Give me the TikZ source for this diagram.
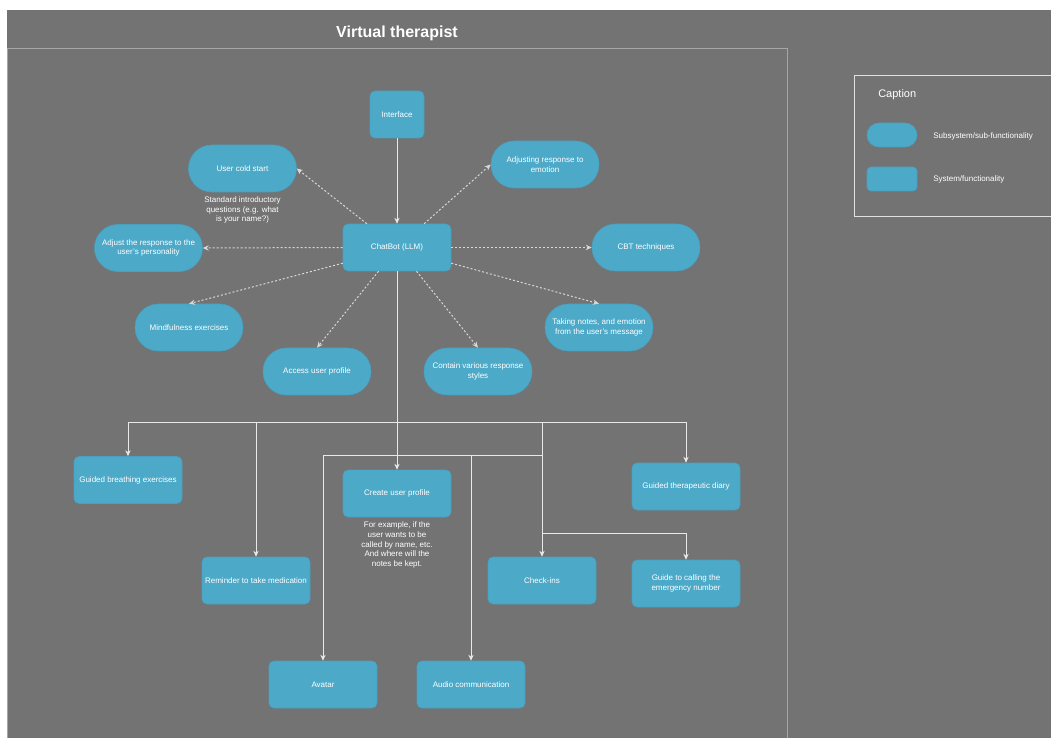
\documentclass[tikz,border=0pt]{standalone}
\usepackage{fontspec}
\setmainfont{Liberation Sans}
\usetikzlibrary{arrows.meta,calc}
\definecolor{bg}{HTML}{737373}
\definecolor{nodeblue}{HTML}{4DA9C8}
\definecolor{nodeedge}{HTML}{4A9EBE}
\definecolor{linecol}{HTML}{E8E8E8}
\definecolor{dashcol}{HTML}{D8D8D8}
\definecolor{framecol}{HTML}{A6A6A6}
\definecolor{capcol}{HTML}{E0E0E0}
\begin{document}
\begin{tikzpicture}[x=0.75pt,y=-0.75pt,
  txt/.style={font=\fontsize{6}{7.2}\selectfont, text=white, align=center},
  sys/.style={txt, draw=nodeedge, fill=nodeblue, rounded corners=3.75pt, minimum width=81pt, minimum height=35.25pt, inner sep=0pt},
  sub/.style={txt, draw=nodeedge, fill=nodeblue, rounded corners=17.5pt, minimum width=81pt, minimum height=35.25pt, inner sep=0pt},
  note/.style={txt, inner sep=0pt},
  dep/.style={draw=dashcol, line width=0.75pt, dash pattern=on 1.5pt off 1.5pt, -{Stealth[length=4.5pt,width=4pt]}},
  flow/.style={draw=linecol, line width=0.75pt, -{Stealth[length=4.5pt,width=4pt]}},
  branch/.style={draw=linecol, line width=0.75pt},
]
\useasboundingbox (0,0) rectangle (1051,738);
% background
\fill[bg] (7,10) rectangle (1051,738);
\draw[framecol, line width=0.75pt] (7,738) -- (7,49) -- (787,49) -- (787,738);
\node[font=\bfseries\fontsize{12}{14}\selectfont, text=white] (title) at (397,33.5) {Virtual therapist};

% caption
\draw[capcol, line width=0.75pt] (1051,76) -- (854,76) -- (854,217) -- (1051,217);
\node[font=\fontsize{8.25}{10}\selectfont, text=white, anchor=west, inner sep=0pt] (captitle) at (878,94.5) {Caption};
\node[sub, minimum width=37.5pt, minimum height=18pt, rounded corners=8.9pt] (legsub) at (892,135) {};
\node[sys, minimum width=37.5pt, minimum height=18pt, rounded corners=3pt] (legsys) at (892,179) {};
\node[txt, anchor=west, inner sep=0pt] (legsubt) at (933,136) {Subsystem/sub-functionality};
\node[txt, anchor=west, inner sep=0pt] (legsyst) at (933,179) {System/functionality};

% central nodes
\node[sys, minimum width=40.5pt] (iface) at (397,114.5) {Interface};
\node[sys] (chat) at (397,247.5) {ChatBot (LLM)};

% subsystems
\node[sub] (cold) at (242.5,168.5) {User cold start};
\node[note] (coldnote) at (242.5,210) {Standard introductory\\questions (e.g. what\\is your name?)};
\node[sub] (adjemo) at (545,164.5) {Adjusting response to\\emotion};
\node[sub] (persona) at (148.5,248) {Adjust the response to the\\user's personality};
\node[sub] (cbt) at (646,247.5) {CBT techniques};
\node[sub] (mind) at (189,327.5) {Mindfulness exercises};
\node[sub] (notes) at (599,327.5) {Taking notes, and emotion\\from the user's message};
\node[sub] (access) at (317,371.5) {Access user profile};
\node[sub] (contain) at (478,371.5) {Contain various response\\styles};

% functionality boxes
\node[sys] (breath) at (128,480) {Guided breathing exercises};
\node[sys] (create) at (397,493.5) {Create user profile};
\node[note] (createnote) at (397,545) {For example, if the\\user wants to be\\called by name, etc.\\And where will the\\notes be kept.};
\node[sys] (diary) at (686,486.5) {Guided therapeutic diary};
\node[sys] (remind) at (256,580.5) {Reminder to take medication};
\node[sys] (checkins) at (542,580.5) {Check-ins};
\node[sys] (guide) at (686,583.5) {Guide to calling the\\emergency number};
\node[sys] (avatar) at (323,684.5) {Avatar};
\node[sys] (audio) at (471,684.5) {Audio communication};

% dashed connectors
\draw[dep] ($(chat.north west)!0.222!(chat.north east)$) -- (cold.east);
\draw[dep] ($(chat.north west)!0.75!(chat.north east)$) -- (adjemo.west);
\draw[dep] (chat.west) -- (persona.east);
\draw[dep] (chat.east) -- (cbt.west);
\draw[dep] ($(chat.north west)!0.83!(chat.south west)$) -- (mind.north);
\draw[dep] ($(chat.north east)!0.83!(chat.south east)$) -- (notes.north);
\draw[dep] ($(chat.south west)!0.33!(chat.south east)$) -- (access.north);
\draw[dep] ($(chat.south west)!0.68!(chat.south east)$) -- (contain.north);

% solid tree
\coordinate (j1) at (397,422);
\coordinate (j2) at (542,455);
\coordinate (j3) at (542,533);
\draw[flow] (iface.south) -- (chat.north);
\draw[flow] (chat.south) -- (create.north);
\draw[flow] (j1) -| (breath.north);
\draw[flow] (j1) -| (remind.north);
\draw[flow] (j1) -| (checkins.north);
\draw[flow] (j1) -| (diary.north);
\draw[flow] (j2) -| (avatar.north);
\draw[flow] (j2) -| (audio.north);
\draw[flow] (j3) -| (guide.north);
\end{tikzpicture}
\end{document}
